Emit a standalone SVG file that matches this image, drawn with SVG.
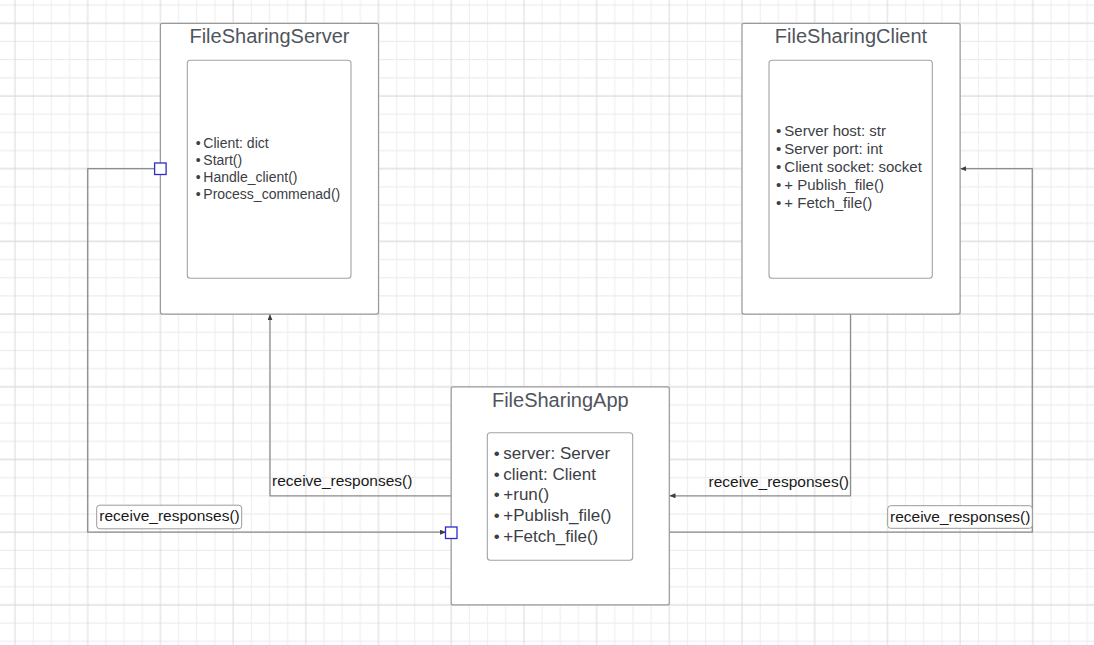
<svg xmlns="http://www.w3.org/2000/svg" width="1094" height="645" viewBox="0 0 1094 645">
<defs>
<pattern id="grid" patternUnits="userSpaceOnUse" x="5.9125" y="14.2125" width="72.7" height="72.7">
<path d="M27.2625 0V72.7M45.4375 0V72.7M63.6125 0V72.7M0 27.2625H72.7M0 45.4375H72.7M0 63.6125H72.7" stroke="#ededed" stroke-width="1" fill="none"/>
<path d="M9.0875 0V72.7M0 9.0875H72.7" stroke="#dadada" stroke-width="1" fill="none"/>
</pattern>
<marker id="arr" viewBox="0 0 6 5" refX="6" refY="2.5" markerWidth="6" markerHeight="5" orient="auto" markerUnits="userSpaceOnUse">
<path d="M0 0L6 2.5L0 5z" fill="#3a3f45"/>
</marker>
<style>
.outer{fill:#fff;stroke:#9a9a9a;stroke-width:1.2}
.inner{fill:#fff;stroke:#a3a3a3;stroke-width:1.1}
.title{font-family:"Liberation Sans",Arial,sans-serif;font-size:20px;fill:#50555c;text-anchor:middle}
.list{font-family:"Liberation Sans",Arial,sans-serif;fill:#3c4046}
.conn{fill:none;stroke:#8e8e8e;stroke-width:1.3;stroke-linejoin:round}
.lbl{font-family:"Liberation Sans",Arial,sans-serif;font-size:15.5px;fill:#1a1a1a}
.lblbox{fill:#fff;stroke:#9a9a9a;stroke-width:1}
.end{fill:#fff;stroke:#2b2bd0;stroke-width:1.3}
</style>
</defs>
<rect width="1094" height="645" fill="#fff"/>
<rect width="1094" height="645" fill="url(#grid)"/>

<g id="connectors">
<path class="conn" d="M451.2 495.8H270V314.3" marker-end="url(#arr)"/>
<path class="conn" d="M850.5 314.1V495.8H669.5" marker-end="url(#arr)"/>
<path class="conn" d="M669.3 532.2H1032.3V168.7H960.3" marker-end="url(#arr)"/>
<path class="conn" d="M160.4 168.7H87.7V532.2H446" marker-end="url(#arr)"/>
<text class="lbl" x="272" y="486">receive_responses()</text>
<text class="lbl" x="849" y="486.7" text-anchor="end">receive_responses()</text>
<rect class="lblbox" x="887.7" y="505.7" width="144.6" height="22.6" rx="3"/>
<text class="lbl" x="890" y="521.5">receive_responses()</text>
<rect class="lblbox" x="96.7" y="505.2" width="145" height="23.6" rx="3"/>
<text class="lbl" x="99.3" y="521">receive_responses()</text>
</g>

<g id="FileSharingServer">
<rect class="outer" x="160.4" y="23.3" width="218.1" height="290.8" rx="2"/>
<text class="title" x="269.5" y="43">FileSharingServer</text>
<rect class="inner" x="187.3" y="60.3" width="163.7" height="218" rx="3"/>
<g class="list" font-size="14">
<text x="195.8" y="148.3">•<tspan x="203.3">Client: dict</tspan></text>
<text x="195.8" y="165.3">•<tspan x="203.3">Start()</tspan></text>
<text x="195.8" y="182.3">•<tspan x="203.3">Handle_client()</tspan></text>
<text x="195.8" y="199.3">•<tspan x="203.3">Process_commenad()</tspan></text>
</g>
<rect class="end" x="154.6" y="163" width="11.5" height="11.5"/>
</g>

<g id="FileSharingClient">
<rect class="outer" x="742" y="23.3" width="218.1" height="290.8" rx="2"/>
<text class="title" x="851" y="43">FileSharingClient</text>
<rect class="inner" x="769" y="60.3" width="163.3" height="218" rx="3"/>
<g class="list" font-size="15">
<text x="776" y="136">•<tspan x="784.3">Server host: str</tspan></text>
<text x="776" y="154">•<tspan x="784.3">Server port: int</tspan></text>
<text x="776" y="172.3">•<tspan x="784.3">Client socket: socket</tspan></text>
<text x="776" y="190.3">•<tspan x="784.3">+ Publish_file()</tspan></text>
<text x="776" y="208.3">•<tspan x="784.3">+ Fetch_file()</tspan></text>
</g>
</g>

<g id="FileSharingApp">
<rect class="outer" x="451.2" y="386.8" width="218.1" height="218.1" rx="2"/>
<text class="title" x="560.3" y="406.5">FileSharingApp</text>
<rect class="inner" x="487.3" y="432.7" width="145.4" height="127.6" rx="3"/>
<g class="list" font-size="17">
<text x="493.8" y="459.3">•<tspan x="503.3">server: Server</tspan></text>
<text x="493.8" y="480">•<tspan x="503.3">client: Client</tspan></text>
<text x="493.8" y="500.3">•<tspan x="503.3">+run()</tspan></text>
<text x="493.8" y="521">•<tspan x="503.3">+Publish_file()</tspan></text>
<text x="493.8" y="541.7">•<tspan x="503.3">+Fetch_file()</tspan></text>
</g>
<rect class="end" x="445.5" y="527" width="11.5" height="11.5"/>
</g>
</svg>
